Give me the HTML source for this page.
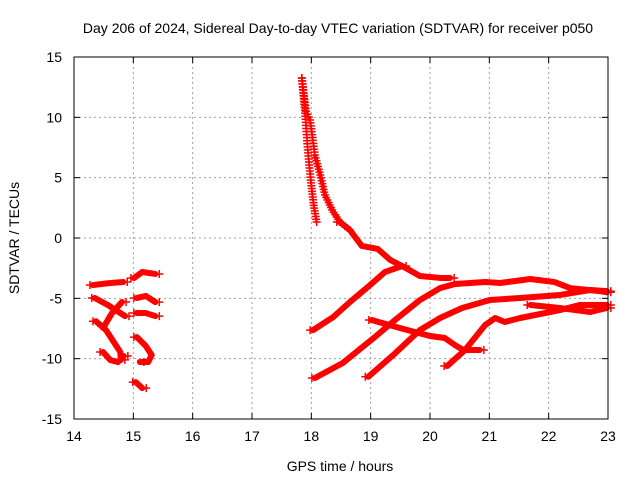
<!DOCTYPE html>
<html><head><meta charset="utf-8"><style>
body{margin:0;background:#fff;}
svg text{font-family:"Liberation Sans",sans-serif;font-size:14px;fill:#000;}
</style></head><body>
<svg id="chart" width="640" height="480" viewBox="0 0 640 480" xmlns="http://www.w3.org/2000/svg">
<rect width="640" height="480" fill="#fff"/>
<text x="338" y="33" text-anchor="middle">Day 206 of 2024, Sidereal Day-to-day VTEC variation (SDTVAR) for receiver p050</text>
<text x="340" y="471" text-anchor="middle">GPS time / hours</text>
<text x="0" y="0" transform="translate(19,238) rotate(-90)" text-anchor="middle">SDTVAR / TECUs</text>
<g id="grid"></g><g id="axes"></g><g id="marks"></g>
<rect x="74" y="57" width="534" height="362" fill="none" stroke="#000" stroke-width="1"/>
</svg>
<script>
const xTicks=[14,15,16,17,18,19,20,21,22,23];
const yTicks=[-15,-10,-5,0,5,10,15];
const steepH=[17.84,17.89,17.94,17.99,18.04,18.09];
const steepV=[13.26,10.6,7.3,4.8,2.7,1.33];
const seriesA0=[[17.84,13.26],[17.91,10.5],[17.98,9.78],[18.06,6.88],[18.15,5.22],[18.23,3.56],[18.35,2.32],[18.48,1.33],[18.65,0.66]];
const seriesA=[[18.48,1.33],[18.65,0.66],[18.85,-0.66],[19.12,-0.91],[19.33,-1.82],[19.53,-2.32],[19.83,-3.15],[20.17,-3.31],[20.34,-3.31]];
const seriesB=[[18.03,-7.63],[18.37,-6.55],[18.65,-5.31],[18.99,-3.9],[19.24,-2.82],[19.53,-2.32]];
const seriesC=[[18.06,-11.6],[18.53,-10.36],[19.07,-8.21],[19.41,-6.8],[19.83,-5.14],[20.17,-4.15],[20.42,-3.81],[20.93,-3.65],[21.18,-3.73],[21.69,-3.4],[22.1,-3.65],[22.36,-4.15],[22.86,-4.4],[22.98,-4.5]];
const seriesD=[[18.96,-11.5],[19.38,-9.7],[19.83,-7.63],[20.17,-6.63],[20.54,-5.8],[21.01,-5.14],[21.52,-4.97],[22.19,-4.72],[22.7,-4.31],[22.98,-4.4]];
const seriesE=[[19.02,-6.8],[19.49,-7.46],[20.0,-8.12],[20.25,-8.29],[20.42,-8.87],[20.56,-9.28],[20.84,-9.28]];
const seriesF=[[20.29,-10.61],[20.59,-9.28],[20.93,-7.21],[21.1,-6.63],[21.26,-6.96],[21.52,-6.63],[22.19,-5.97],[22.53,-5.55],[22.98,-5.55]];
const seriesG=[[21.69,-5.55],[22.19,-5.8],[22.7,-6.13],[22.98,-5.8]];
const seriesL1=[[14.32,-3.9],[14.57,-3.75],[14.83,-3.65]];
const seriesL2=[[14.35,-4.97],[14.57,-5.55],[14.86,-6.47]];
const seriesL3=[[14.37,-6.9],[14.54,-7.63],[14.67,-8.62],[14.78,-9.45],[14.79,-10.1]];
const seriesL4=[[14.51,-7.3],[14.64,-6.22],[14.81,-5.3]];
const seriesL5=[[14.49,-9.45],[14.61,-10.11],[14.74,-10.28],[14.84,-9.78]];
const seriesM1=[[15.01,-3.32],[15.15,-2.82],[15.37,-2.98]];
const seriesM2=[[15.06,-4.97],[15.21,-4.8],[15.37,-5.31]];
const seriesM3=[[15.06,-6.22],[15.21,-6.22],[15.37,-6.47]];
const seriesM4=[[15.06,-8.21],[15.21,-8.95],[15.31,-9.7],[15.25,-10.28],[15.11,-10.28]];
const seriesM5=[[15.04,-11.94],[15.15,-12.44]];
const allSeries=[seriesA,seriesB,seriesC,seriesD,seriesE,seriesF,seriesG,seriesL1,seriesL2,seriesL3,seriesL4,seriesL5,seriesM1,seriesM2,seriesM3,seriesM4,seriesM5];
const NS='http://www.w3.org/2000/svg';
function X(h){return 74+(h-14)*534/9;}
function Y(v){return 238-v*362/30;}
function mk(t,a,p){const e=document.createElementNS(NS,t);for(const k in a)e.setAttribute(k,a[k]);p.appendChild(e);return e;}
const grid=document.getElementById('grid'),axes=document.getElementById('axes'),marks=document.getElementById('marks');
xTicks.forEach(t=>{const x=X(t);
 if(t>14&&t<23){const g=mk('line',{x1:x,y1:57,x2:x,y2:419,stroke:'#a0a0a0','stroke-dasharray':'2,3'},grid);
 
 }
 mk('line',{x1:x,y1:419,x2:x,y2:413,stroke:'#000'},axes);mk('line',{x1:x,y1:57,x2:x,y2:63,stroke:'#000'},axes);
 const l=mk('text',{x:x,y:441,'text-anchor':'middle'},axes);l.textContent=t;
 
 });
yTicks.forEach(t=>{const y=Y(t);
 if(t>-15&&t<15){const g=mk('line',{x1:74,y1:y,x2:608,y2:y,stroke:'#a0a0a0','stroke-dasharray':'2,3'},grid);
 
 }
 mk('line',{x1:74,y1:y,x2:80,y2:y,stroke:'#000'},axes);mk('line',{x1:602,y1:y,x2:608,y2:y,stroke:'#000'},axes);
 const l=mk('text',{x:62,y:y+5,'text-anchor':'end'},axes);l.textContent=t;
 
 });
function plus(x,y){mk('path',{d:`M${x-4},${y}h8M${x},${y-4}v8`,stroke:'#f00','stroke-width':1.5},marks);}
function markerTrail(pts){
 for(let i=0;i<pts.length-1;i++){
  const x1=X(pts[i][0]),y1=Y(pts[i][1]),x2=X(pts[i+1][0]),y2=Y(pts[i+1][1]);
  const n=Math.max(1,Math.round(Math.hypot(x2-x1,y2-y1)/3));
  for(let k=0;k<n;k++){plus(x1+(x2-x1)*k/n,y1+(y2-y1)*k/n);}
 }
 const e=pts[pts.length-1];plus(X(e[0]),Y(e[1]));
}
markerTrail(steepH.map((h,i)=>[h,steepV[i]]));
markerTrail(seriesA0);
const a0=mk('polyline',{points:seriesA0.slice(3).map(d=>X(d[0])+','+Y(d[1])).join(' '),fill:'none',stroke:'#f00','stroke-width':4,'stroke-linejoin':'round'},marks);


allSeries.forEach(s=>{
 const p=mk('polyline',{points:s.map(d=>X(d[0])+','+Y(d[1])).join(' '),fill:'none',stroke:'#f00','stroke-width':6,'stroke-linejoin':'round','stroke-linecap':'round'},marks);
 
 
 const e=s[s.length-1];plus(X(e[0])+4,Y(e[1]));plus(X(s[0][0])-3,Y(s[0][1]));
});
</script>
</body></html>
